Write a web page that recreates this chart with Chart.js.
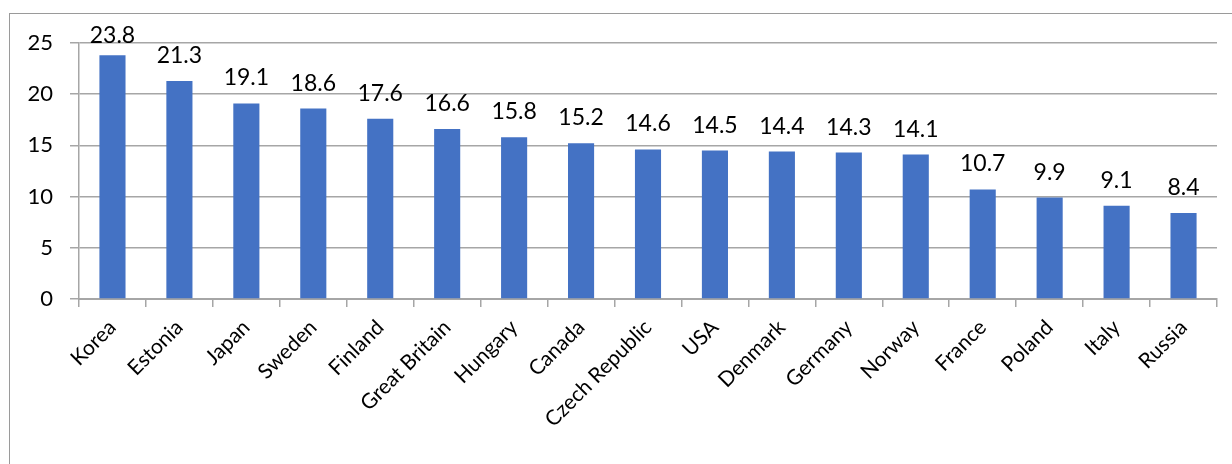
<!DOCTYPE html>
<html lang="en">
<head>
    <meta charset="UTF-8">
    <title>Values by country</title>
    <script src="https://cdn.jsdelivr.net/npm/chart.js@4.4.0/dist/chart.umd.min.js"></script>
    <style>
        body {
            margin: 0;
            background: #fff;
            font-family: Lato, sans-serif;
        }
        .frame {
            position: absolute;
            left: 9px;
            top: 13px;
            width: 1260px;
            height: 480px;
            border: 1.5px solid #9a9a9a;
        }
        .chart-box {
            position: absolute;
            left: 0;
            top: 0;
            width: 1232px;
            height: 464px;
        }
    </style>
</head>
<body>
    <div class="frame"></div>
    <div class="chart-box">
        <canvas id="barChart"></canvas>
    </div>
    <script>
        const countries = ['Korea', 'Estonia', 'Japan', 'Sweden', 'Finland', 'Great Britain', 'Hungary',
            'Canada', 'Czech Republic', 'USA', 'Denmark', 'Germany', 'Norway', 'France', 'Poland', 'Italy', 'Russia'];
        const values = [23.8, 21.3, 19.1, 18.6, 17.6, 16.6, 15.8, 15.2, 14.6, 14.5, 14.4, 14.3, 14.1, 10.7, 9.9, 9.1, 8.4];
        const yTicks = [0, 5, 10, 15, 20, 25];

        const fontFamily = 'Lato, sans-serif';
        const gridColor = '#a6a6a6';

        // draws the value above each bar (kept inside the frame, like the tallest one)
        const valueLabels = {
            id: 'valueLabels',
            afterDatasetsDraw(chart) {
                const ctx = chart.ctx;
                const meta = chart.getDatasetMeta(0);
                ctx.save();
                ctx.font = '23px ' + fontFamily;
                ctx.fillStyle = '#000';
                ctx.textAlign = 'center';
                ctx.textBaseline = 'alphabetic';
                meta.data.forEach(function(bar, i) {
                    const y = Math.max(bar.y - 18, 43);
                    ctx.fillText(values[i].toFixed(1), bar.x, y);
                });
                ctx.restore();
            }
        };

        new Chart(document.getElementById('barChart'), {
            type: 'bar',
            data: {
                labels: countries,
                datasets: [{
                    data: values,
                    backgroundColor: '#4472C4',
                    categoryPercentage: 1,
                    barPercentage: 0.39
                }]
            },
            options: {
                responsive: true,
                maintainAspectRatio: false,
                animation: false,
                layout: {
                    padding: { top: 43, right: 15, left: 0, bottom: 0 }
                },
                plugins: {
                    legend: { display: false },
                    tooltip: { enabled: false }
                },
                scales: {
                    x: {
                        afterFit: function(scale) { scale.height = 165; },
                        grid: {
                            display: true,
                            drawOnChartArea: false,
                            drawTicks: true,
                            tickLength: 8,
                            color: gridColor,
                            lineWidth: 1.5
                        },
                        border: { display: true, color: gridColor, width: 2 },
                        ticks: {
                            minRotation: 45,
                            maxRotation: 45,
                            autoSkip: false,
                            padding: 8,
                            color: '#000',
                            font: { family: fontFamily, size: 21 }
                        }
                    },
                    y: {
                        min: 0,
                        max: 25,
                        afterFit: function(scale) { scale.width = 79; },
                        afterBuildTicks: function(scale) {
                            scale.ticks = yTicks.map(function(v) { return { value: v }; });
                        },
                        grid: {
                            color: gridColor,
                            lineWidth: 1.5,
                            tickLength: 9
                        },
                        border: { display: true, color: gridColor, width: 1.5 },
                        ticks: {
                            padding: 17,
                            color: '#000',
                            font: { family: fontFamily, size: 22 }
                        }
                    }
                }
            },
            plugins: [valueLabels]
        });
    </script>
</body>
</html>
